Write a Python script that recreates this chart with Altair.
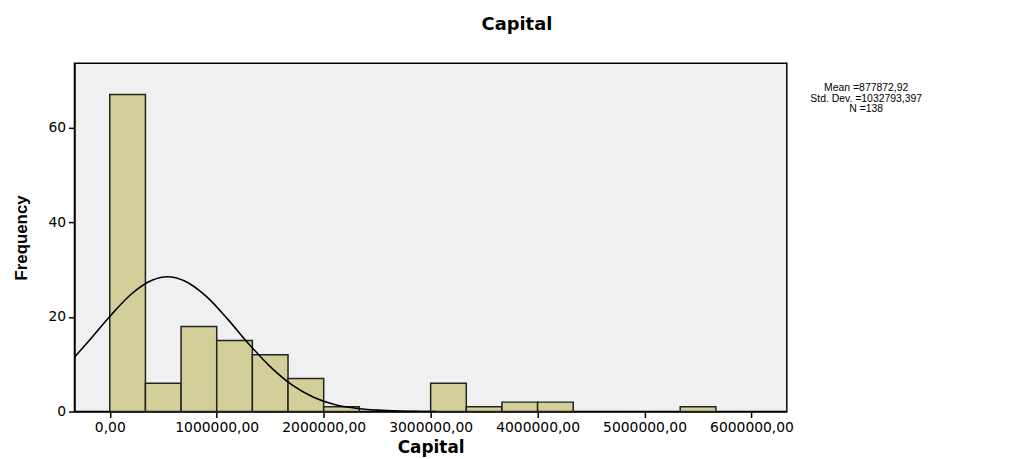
import altair as alt
import pandas as pd

# Histogram bins (Capital) and their frequencies
bin_start = [0, 333333, 666667, 1000000, 1333333, 1666667, 2000000,
             3000000, 3333333, 3666667, 4000000, 5333333]
bin_end = [333333, 666667, 1000000, 1333333, 1666667, 2000000, 2333333,
           3333333, 3666667, 4000000, 4333333, 5666667]
counts = [67, 6, 18, 15, 12, 7, 1, 6, 1, 2, 2, 1]

# Fitted curve, points
curve_x = [-330000, -200000, 0, 200000, 400000, 540000, 700000, 900000,
           1100000, 1300000, 1500000, 1700000, 1900000, 2100000, 2300000,
           2500000, 2700000, 2900000, 3050000]
curve_y = [11.5, 14.8, 20.1, 24.8, 27.8, 28.5, 27.6, 24.4, 19.6, 14.3,
           9.5, 5.7, 3.1, 1.5, 0.7, 0.3, 0.1, 0.03, 0.01]

x_ticks = [0, 1000000, 2000000, 3000000, 4000000, 5000000, 6000000]
y_ticks = [0, 20, 40, 60]

stats_lines = ["Mean =877872,92", "Std. Dev. =1032793,397", "N =138"]

bars_df = pd.DataFrame({"start": bin_start, "end": bin_end, "count": counts})
curve_df = pd.DataFrame({"x": curve_x, "y": curve_y})

W, H = 718, 351
x_scale = alt.Scale(domain=[-330000, 6330000], nice=False, zero=False)
y_scale = alt.Scale(domain=[0, 73.6], nice=False)

tick_font = "DejaVu Sans"

bars = alt.Chart(bars_df).mark_rect(
    fill="#D3CF98", stroke="#222222", strokeWidth=1.5
).encode(
    x=alt.X("start:Q", scale=x_scale,
            axis=alt.Axis(values=x_ticks, title="Capital",
                          labelExpr="replace(format(datum.value, '.2f'), '.', ',')",
                          grid=False, domainColor="black", domainWidth=1.5,
                          tickColor="black", tickSize=6, tickWidth=1.5,
                          labelFont=tick_font, labelFontSize=14, labelColor="black",
                          labelPadding=3, labelFlush=False, labelOverlap=False,
                          titleFont="DejaVu Sans", titleFontWeight="bold",
                          titleFontSize=17, titleColor="black", titlePadding=5)),
    x2="end:Q",
    y=alt.Y("count:Q", scale=y_scale,
            axis=alt.Axis(values=y_ticks, title="Frequency", format="d",
                          grid=False, domainColor="black", domainWidth=1.5,
                          tickColor="black", tickSize=6, tickWidth=1.5,
                          labelFont=tick_font, labelFontSize=14, labelColor="black",
                          labelPadding=3,
                          titleFont="Liberation Sans Narrow, Liberation Sans",
                          titleFontWeight="bold", titleFontSize=17,
                          titleColor="black", titlePadding=18)),
    y2=alt.datum(0),
)

curve = alt.Chart(curve_df).mark_line(
    color="black", strokeWidth=1.6, interpolate="monotone", clip=True
).encode(
    x=alt.X("x:Q", scale=x_scale),
    y=alt.Y("y:Q", scale=y_scale),
)

title_text = alt.Chart(pd.DataFrame({"t": ["Capital"]})).mark_text(
    font="DejaVu Sans", fontWeight="bold", fontSize=18, color="black",
    align="center", baseline="alphabetic"
).encode(
    x=alt.value(446), y=alt.value(-34), text="t:N"
)

stats = alt.Chart(pd.DataFrame({"t": ["\n".join(stats_lines)]})).mark_text(
    font="Liberation Sans", fontSize=10.5, color="black",
    align="center", baseline="alphabetic", lineBreak="\n", lineHeight=10.5
).encode(
    x=alt.value(798), y=alt.value(28), text="t:N"
)

chart = alt.layer(bars, curve, title_text, stats).properties(
    width=W, height=H,
    background="white",
    autosize=alt.AutoSizeParams(type="none"),
    padding={"left": 67, "top": 54, "right": 230, "bottom": 46},
).configure_view(
    fill="#F0F0F0", stroke="black", strokeWidth=1.5
)

chart.save("out.html", embed_options={"renderer": "svg", "actions": False})
